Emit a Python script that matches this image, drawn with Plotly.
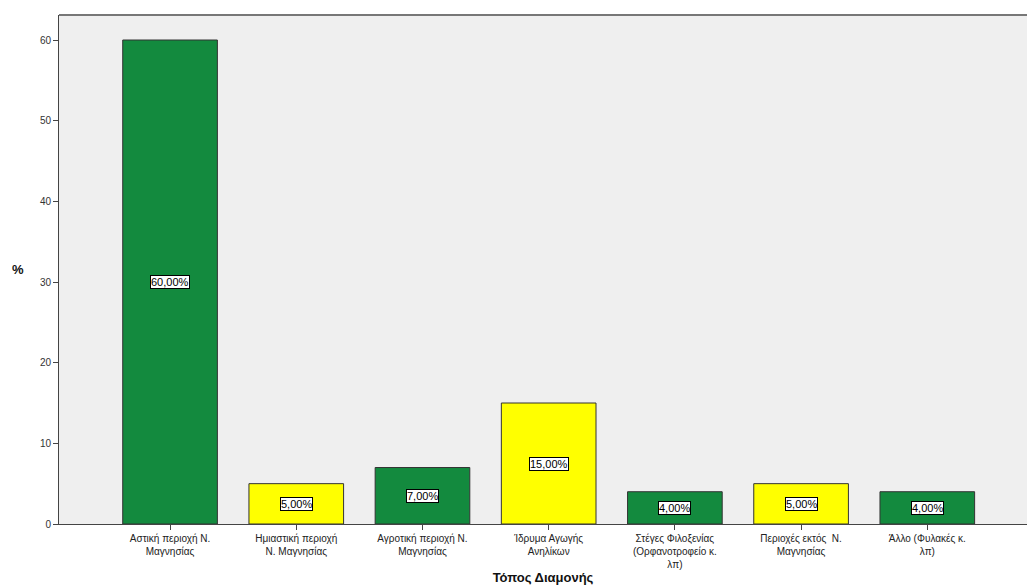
import plotly.graph_objects as go

categories = [
    "Αστική περιοχή Ν.<br>Μαγνησίας",
    "Ημιαστική περιοχή<br>Ν. Μαγνησίας",
    "Αγροτική περιοχή Ν.<br>Μαγνησίας",
    "Ίδρυμα Αγωγής<br>Ανηλίκων",
    "Στέγες Φιλοξενίας<br>(Ορφανοτροφείο κ.<br>λπ)",
    "Περιοχές εκτός  Ν.<br>Μαγνησίας",
    "Άλλο (Φυλακές κ.<br>λπ)",
]
values = [60, 5, 7, 15, 4, 5, 4]
bar_colors = ["#138a3e", "#ffff00", "#138a3e", "#ffff00", "#138a3e", "#ffff00", "#138a3e"]
y_ticks = [0, 10, 20, 30, 40, 50, 60]

x_idx = list(range(len(categories)))

fig = go.Figure()
fig.add_trace(go.Bar(
    x=x_idx, y=values,
    marker=dict(color=bar_colors, line=dict(color="#333333", width=1)),
    width=0.75,
    hoverinfo="skip",
))

anns = []
for i, v in zip(x_idx, values):
    anns.append(dict(
        x=i, y=v / 2, xref="x", yref="y",
        text=f"{v:.2f}%".replace(".", ","),
        showarrow=False,
        font=dict(family="Liberation Sans, Arial, sans-serif", size=11, color="#000000"),
        bgcolor="#ffffff", bordercolor="#000000", borderwidth=1, borderpad=0,
    ))
anns.append(dict(
    x=-0.042, y=0.5, xref="paper", yref="paper", xanchor="center", yanchor="middle",
    text="<b>%</b>", showarrow=False, font=dict(size=13, color="#111111"),
))

fig.update_layout(
    width=1027, height=585,
    margin=dict(l=59, r=0, t=15, b=61),
    paper_bgcolor="#ffffff",
    plot_bgcolor="#efefef",
    showlegend=False,
    annotations=anns,
    font=dict(family="Liberation Sans, Arial, sans-serif", size=10, color="#333333"),
    xaxis=dict(
        tickmode="array", tickvals=x_idx, ticktext=categories,
        range=[-0.88, 6.79],
        showline=True, linecolor="#444444", linewidth=1,
        ticks="outside", ticklen=5, tickcolor="#444444",
        showgrid=False, zeroline=False,
        title=dict(text="<b>Τόπος Διαμονής</b>", font=dict(size=13, color="#111111"), standoff=6),
        tickfont=dict(size=10, color="#222222"),
    ),
    yaxis=dict(
        range=[0, 63.1],
        tickmode="array", tickvals=y_ticks,
        showline=True, linecolor="#444444", linewidth=1, mirror=False,
        ticks="outside", ticklen=5, tickcolor="#444444",
        showgrid=False, zeroline=False,
        tickfont=dict(size=10, color="#333333"),
    ),
)

fig.add_shape(type="line", xref="paper", yref="paper", x0=0, x1=1, y0=1, y1=1,
              line=dict(color="#777777", width=2))

fig.write_html(
    "out.html",
    config={"displayModeBar": False},
    post_script="document.body.style.margin='0';document.body.style.overflow='hidden';",
)
